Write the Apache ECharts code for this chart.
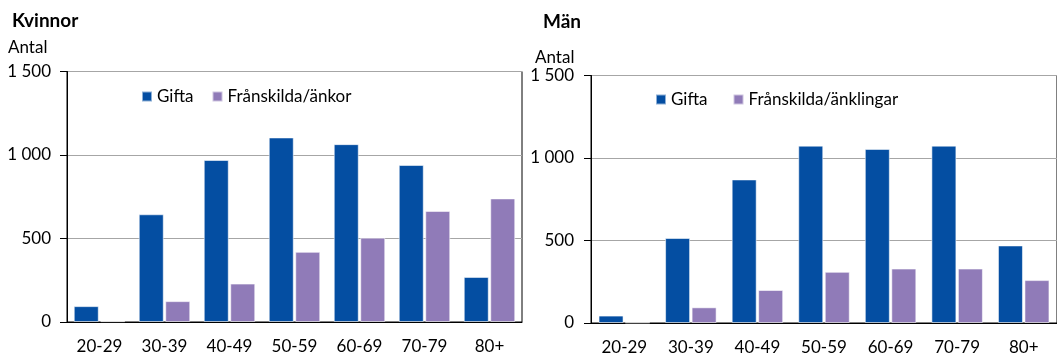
<!DOCTYPE html>
<html>
<head>
<meta charset="utf-8">
<script src="https://cdn.jsdelivr.net/npm/echarts@6/dist/echarts.min.js"></script>
<style>
html,body{margin:0;padding:0;background:#fff;}
#chart{width:1057px;height:356px;}
</style>
</head>
<body>
<div id="chart"></div>
<script>
const categories = ['20-29','30-39','40-49','50-59','60-69','70-79','80+'];
const kvinnorGifta = [95, 645, 970, 1105, 1065, 940, 270];
const kvinnorFranskilda = [5, 125, 230, 420, 505, 665, 740];
const manGifta = [45, 515, 870, 1075, 1055, 1075, 470];
const manFranskilda = [3, 95, 200, 310, 330, 330, 260];
const titleLeft = 'Kvinnor';
const titleRight = 'Män';
const yName = 'Antal';
const legendLeft = ['Gifta', 'Frånskilda/änkor'];
const legendRight = ['Gifta', 'Frånskilda/änklingar'];

const FONT = 'Lato';
const FS = 17;
const C1 = '#044ea2';
const C2 = '#907bb8';

function fmt(v){ return v >= 1000 ? Math.floor(v/1000) + ' ' + String(v%1000).padStart(3,'0') : String(v); }

function xAx(gi, margin){
  return {
    type:'category', gridIndex:gi, data:categories,
    axisLine:{show:true, lineStyle:{color:'#000', width:1}},
    axisTick:{show:false},
    axisLabel:{color:'#000', fontFamily:FONT, fontSize:FS, margin:margin, interval:0}
  };
}
function yAx(gi, margin){
  return {
    type:'value', gridIndex:gi, min:0, max:1500, interval:500,
    axisLine:{show:true, lineStyle:{color:'#000', width:1}},
    axisTick:{show:true, length:7, lineStyle:{color:'#000'}},
    axisLabel:{color:'#000', fontFamily:FONT, fontSize:FS, margin:margin, formatter:fmt},
    splitLine:{show:true, lineStyle:{color:'#a6a6a6', width:1}}
  };
}
function bar(name, data, color, xi, bw){
  return {
    type:'bar', name:name, data:data, xAxisIndex:xi, yAxisIndex:xi,
    barWidth:bw, barGap:'6%',
    itemStyle:{color:color, borderColor:'rgba(255,255,255,0.55)', borderWidth:1},
    emphasis:{disabled:true}
  };
}
function legend(data, left, top, gap){
  return {data:data, left:left, top:top, padding:0, itemWidth:10, itemHeight:10, itemGap:gap, icon:'rect',
    textStyle:{fontFamily:FONT, fontSize:FS, color:'#000'}};
}

const chart = echarts.init(document.getElementById('chart'), null, {renderer:'canvas'});
chart.setOption({
  animation:false,
  backgroundColor:'#fff',
  title:[
    {text:titleLeft, left:12, top:11, padding:0, textStyle:{fontFamily:FONT, fontSize:19, fontWeight:'bold', color:'#000'}},
    {text:titleRight, left:543, top:12, padding:0, textStyle:{fontFamily:FONT, fontSize:19, fontWeight:'bold', color:'#000'}},
    {text:yName, left:8, top:39, padding:0, textStyle:{fontFamily:FONT, fontSize:FS, fontWeight:'normal', color:'#000'}},
    {text:yName, left:535, top:49, padding:0, textStyle:{fontFamily:FONT, fontSize:FS, fontWeight:'normal', color:'#000'}}
  ],
  legend:[
    legend(legendLeft, 141, 88, 18),
    legend(legendRight, 655, 91, 25)
  ],
  grid:[
    {left:67, top:71.5, width:455, height:250.5, show:true, borderColor:'#000', borderWidth:1, containLabel:false},
    {left:591, top:75.5, width:478, height:250.2, show:true, borderColor:'#000', borderWidth:1, containLabel:false}
  ],
  xAxis:[xAx(0,16), xAx(1,16)],
  yAxis:[yAx(0,16), yAx(1,17)],
  series:[
    bar('Gifta', kvinnorGifta, C1, 0, 25),
    bar('Frånskilda/änkor', kvinnorFranskilda, C2, 0, 25),
    bar('Gifta', manGifta, C1, 1, 25),
    bar('Frånskilda/änklingar', manFranskilda, C2, 1, 25)
  ]
});
</script>
</body>
</html>
